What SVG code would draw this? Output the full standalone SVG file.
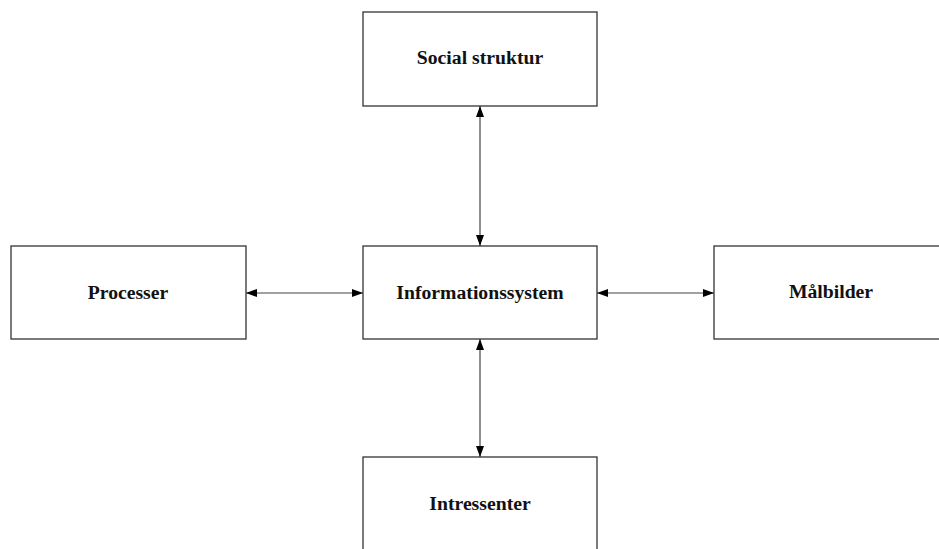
<svg xmlns="http://www.w3.org/2000/svg" width="939" height="549" viewBox="0 0 939 549">
  <defs>
    <marker id="arrow" viewBox="0 0 11 8" refX="11" refY="4" markerWidth="11" markerHeight="8" markerUnits="userSpaceOnUse" orient="auto-start-reverse">
      <path d="M0,0 L11,4 L0,8 Z" fill="#000"/>
    </marker>
  </defs>
  <style>
    .box { fill: #fff; stroke: #333; stroke-width: 1.3; }
    .label { font-family: "Liberation Serif", "Times New Roman", serif; font-weight: bold; font-size: 19.7px; text-anchor: middle; fill: #111; }
    .link { stroke: #444; stroke-width: 1.2; fill: none; marker-start: url(#arrow); marker-end: url(#arrow); }
  </style>
  <rect width="939" height="549" fill="#fff"/>

  <!-- two-way links from the central system box -->
  <g id="connectors">
    <line class="link" x1="480" y1="106" x2="480" y2="246"/>
    <line class="link" x1="480" y1="339" x2="480" y2="457"/>
    <line class="link" x1="246" y1="293" x2="363" y2="293"/>
    <line class="link" x1="597" y1="293" x2="714" y2="293"/>
  </g>

  <g id="social-struktur">
    <rect class="box" x="363" y="12" width="234" height="94"/>
    <text class="label" x="480" y="64">Social struktur</text>
  </g>

  <g id="informationssystem">
    <rect class="box" x="363" y="246" width="234" height="93"/>
    <text class="label" x="480" y="298.5">Informationssystem</text>
  </g>

  <g id="processer">
    <rect class="box" x="11" y="246" width="235" height="93"/>
    <text class="label" x="128" y="299">Processer</text>
  </g>

  <g id="malbilder">
    <rect class="box" x="714" y="246" width="234" height="93"/>
    <text class="label" x="831" y="298">Målbilder</text>
  </g>

  <g id="intressenter">
    <rect class="box" x="363" y="457" width="234" height="100"/>
    <text class="label" x="480" y="510">Intressenter</text>
  </g>
</svg>
